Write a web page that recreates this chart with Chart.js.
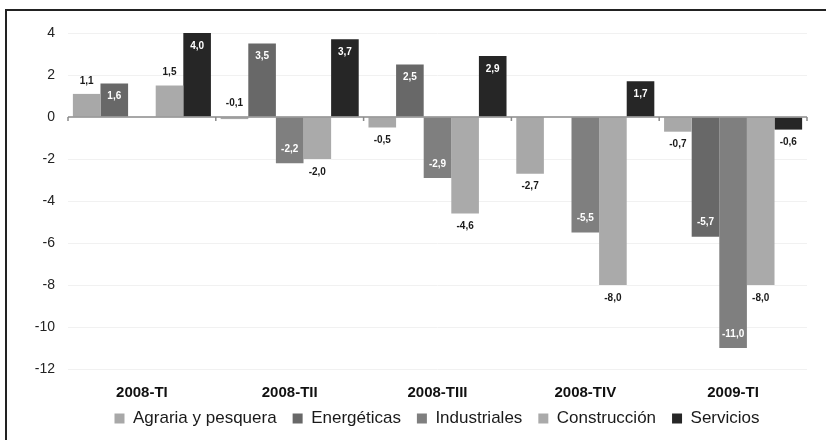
<!DOCTYPE html>
<html>
<head>
<meta charset="utf-8">
<script src="https://cdn.jsdelivr.net/npm/chart.js@4.4.1/dist/chart.umd.min.js"></script>
<style>
  html, body { margin: 0; padding: 0; background: #fff; }
  #wrap { position: relative; width: 826px; height: 440px; }
  #marco { position: absolute; left: 5px; top: 9px; right: -4px; bottom: -4px; border-left: 2px solid #222; border-top: 2px solid #222; pointer-events: none; }
</style>
</head>
<body>
<div id="wrap">
  <canvas id="grafico" width="826" height="440"></canvas>
  <div id="marco"></div>
</div>
<script>
// Datos (variacion %)
const trimestres = ["2008-TI", "2008-TII", "2008-TIII", "2008-TIV", "2009-TI"];
const agraria = [1.1, -0.1, -0.5, -2.7, -0.7];
const energeticas = [1.6, 3.5, 2.5, null, -5.7];
const industriales = [null, -2.2, -2.9, -5.5, -11.0];
const construccion = [1.5, -2.0, -4.6, -8.0, -8.0];
const servicios = [4.0, 3.7, 2.9, 1.7, -0.6];
const yTicks = [4, 2, 0, -2, -4, -6, -8, -10, -12];

const fuente = "'Liberation Sans', Arial, sans-serif";

// series oscuras llevan la etiqueta dentro (blanca)
const oscuras = [false, true, true, false, true];

const etiquetas = {
    id: "etiquetas",
    afterDatasetsDraw(chart) {
        const ctx = chart.ctx;
        const x = chart.scales.x;
        const y = chart.scales.y;
        const y0 = y.getPixelForValue(0);

        // linea del cero con marcas entre grupos
        ctx.save();
        ctx.strokeStyle = "#8a8a8a";
        ctx.lineWidth = 1.5;
        ctx.beginPath();
        ctx.moveTo(chart.chartArea.left, y0);
        ctx.lineTo(chart.chartArea.right, y0);
        const w = (chart.chartArea.right - chart.chartArea.left) / trimestres.length;
        for (let i = 0; i <= trimestres.length; i++) {
            const px = x.getPixelForValue(0) - w / 2 + i * w;
            ctx.moveTo(px, y0);
            ctx.lineTo(px, y0 + 4);
        }
        ctx.stroke();

        ctx.font = "bold 10px " + fuente;
        ctx.textAlign = "center";
        ctx.textBaseline = "middle";
        chart.data.datasets.forEach((ds, di) => {
            const meta = chart.getDatasetMeta(di);
            meta.data.forEach((bar, i) => {
                const v = ds.data[i];
                if (v === null || v === undefined) return;
                const txt = v.toFixed(1).replace(".", ",");
                let ty, color = "#1a1a1a";
                if (oscuras[di] && Math.abs(v) >= 1) {
                    color = "#ffffff";
                    ty = v > 0 ? bar.y + 13 : bar.y - 14;
                } else if (Math.abs(v) < 0.2) {
                    ty = y0 - 14;
                } else {
                    ty = v > 0 ? bar.y - 13 : bar.y + 13;
                }
                ctx.fillStyle = color;
                ctx.fillText(txt, bar.x, ty);
            });
        });
        ctx.restore();
    }
};

const ajusteLeyenda = {
    id: "ajusteLeyenda",
    beforeLayout(chart) {
        const lg = chart.legend;
        if (lg && !lg._parcheado) {
            const fit = lg.fit;
            lg.fit = function () {
                fit.call(this);
                this.height = 30;
            };
            lg._parcheado = true;
        }
    },
    beforeDraw(chart) {
        const lg = chart.legend;
        lg.left = 62;
        lg.right = 812;
        lg.top = 394;
    }
};

new Chart(document.getElementById("grafico"), {
    type: "bar",
    plugins: [etiquetas, ajusteLeyenda],
    data: {
        labels: trimestres,
        datasets: [
            { label: "Agraria y pesquera", data: agraria, backgroundColor: "#a8a8a8" },
            { label: "Energéticas", data: energeticas, backgroundColor: "#686868" },
            { label: "Industriales", data: industriales, backgroundColor: "#7f7f7f" },
            { label: "Construcción", data: construccion, backgroundColor: "#aaaaaa" },
            { label: "Servicios", data: servicios, backgroundColor: "#262626" }
        ]
    },
    options: {
        responsive: false,
        animation: false,
        layout: { padding: { top: 33, right: 19, left: 0, bottom: 0 } },
        datasets: {
            bar: { categoryPercentage: 0.934, barPercentage: 1.0, borderWidth: 0 }
        },
        plugins: {
            legend: {
                position: "bottom",
                labels: {
                    boxWidth: 10,
                    boxHeight: 10,
                    padding: 16,
                    color: "#1a1a1a",
                    font: { family: fuente, size: 17 }
                }
            },
            tooltip: { enabled: false }
        },
        scales: {
            x: {
                grid: { display: false },
                border: { display: false },
                ticks: {
                    padding: 7,
                    color: "#111",
                    font: { family: fuente, size: 15, weight: "bold" }
                },
                afterFit(s) { s.height = 41; }
            },
            y: {
                min: -12,
                max: 4,
                afterBuildTicks(s) { s.ticks = yTicks.map(v => ({ value: v })); },
                grid: {
                    color: ctx => ctx.tick.value === 0 ? "rgba(0,0,0,0)" : "#f1f1f1",
                    drawTicks: false
                },
                border: { display: false },
                ticks: {
                    padding: 13,
                    color: "#222",
                    font: { family: fuente, size: 14 }
                },
                afterFit(s) { s.width = 68; }
            }
        }
    }
});
</script>
</body>
</html>
